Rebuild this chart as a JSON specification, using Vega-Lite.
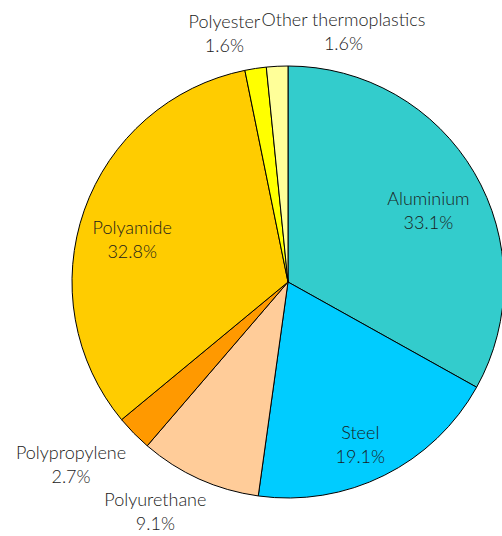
{
  "$schema": "https://vega.github.io/schema/vega-lite/v6.json",
  "width": 428,
  "height": 508,
  "padding": {"left": 74, "top": 28, "right": 0, "bottom": 0},
  "autosize": {"type": "none"},
  "background": "white",
  "view": {"stroke": null},
  "config": {
    "text": {"font": "Lato", "fontSize": 18, "fontWeight": 300, "fill": "#1a1a1a", "align": "center", "baseline": "middle", "lineHeight": 24, "lineBreak": "\n"}
  },
  "data": {"values": [
    {"material": "Aluminium", "share": 33.1},
    {"material": "Steel", "share": 19.1},
    {"material": "Polyurethane", "share": 9.1},
    {"material": "Polypropylene", "share": 2.7},
    {"material": "Polyamide", "share": 32.8},
    {"material": "Polyester", "share": 1.6},
    {"material": "Other thermoplastics", "share": 1.6}
  ]},
  "transform": [
    {"window": [{"op": "row_number", "as": "rank"}]},
    {"stack": "share", "groupby": [], "sort": [{"field": "rank", "order": "ascending"}], "as": ["s0", "s1"]},
    {"calculate": "(datum.s0 + datum.s1) / 2", "as": "mid"},
    {"calculate": "datum.material + '\\n' + format(datum.share, '.1f') + '%'", "as": "label"}
  ],
  "layer": [
    {
      "mark": {"type": "arc", "outerRadius": 216, "stroke": "black", "strokeWidth": 1},
      "encoding": {
        "theta": {"field": "s0", "type": "quantitative", "scale": {"domain": [0, 100]}},
        "theta2": {"field": "s1"},
        "color": {"field": "material", "type": "nominal", "legend": null,
          "scale": {"domain": ["Aluminium", "Steel", "Polyurethane", "Polypropylene", "Polyamide", "Polyester", "Other thermoplastics"],
                    "range": ["#33CCCC", "#00CCFF", "#FFCC99", "#FF9900", "#FFCC00", "#FFFF00", "#FFFF99"]}}
      }
    },
    {
      "transform": [{"filter": "datum.material === 'Aluminium'"}],
      "mark": {"type": "text", "radius": 157, "dx": 5, "dy": -3},
      "encoding": {"theta": {"field": "mid", "type": "quantitative"}, "text": {"field": "label"}}
    },
    {
      "transform": [{"filter": "datum.material === 'Steel'"}],
      "mark": {"type": "text", "radius": 178, "dx": -7, "dy": -7},
      "encoding": {"theta": {"field": "mid", "type": "quantitative"}, "text": {"field": "label"}}
    },
    {
      "transform": [{"filter": "datum.material === 'Polyurethane'"}],
      "mark": {"type": "text", "radius": 264, "dx": -24, "dy": -22},
      "encoding": {"theta": {"field": "mid", "type": "quantitative"}, "text": {"field": "label"}}
    },
    {
      "transform": [{"filter": "datum.material === 'Polypropylene'"}],
      "mark": {"type": "text", "radius": 283, "dx": -15, "dy": -26},
      "encoding": {"theta": {"field": "mid", "type": "quantitative"}, "text": {"field": "label"}}
    },
    {
      "transform": [{"filter": "datum.material === 'Polyamide'"}],
      "mark": {"type": "text", "radius": 161, "dx": -4, "dy": 1},
      "encoding": {"theta": {"field": "mid", "type": "quantitative"}, "text": {"field": "label"}}
    },
    {
      "transform": [{"filter": "datum.material === 'Polyester'"}],
      "mark": {"type": "text", "radius": 257, "dx": -25, "dy": -5},
      "encoding": {"theta": {"field": "mid", "type": "quantitative"}, "text": {"field": "label"}}
    },
    {
      "transform": [{"filter": "datum.material === 'Other thermoplastics'"}],
      "mark": {"type": "text", "radius": 249, "dx": 68, "dy": -12},
      "encoding": {"theta": {"field": "mid", "type": "quantitative"}, "text": {"field": "label"}}
    }
  ]
}
